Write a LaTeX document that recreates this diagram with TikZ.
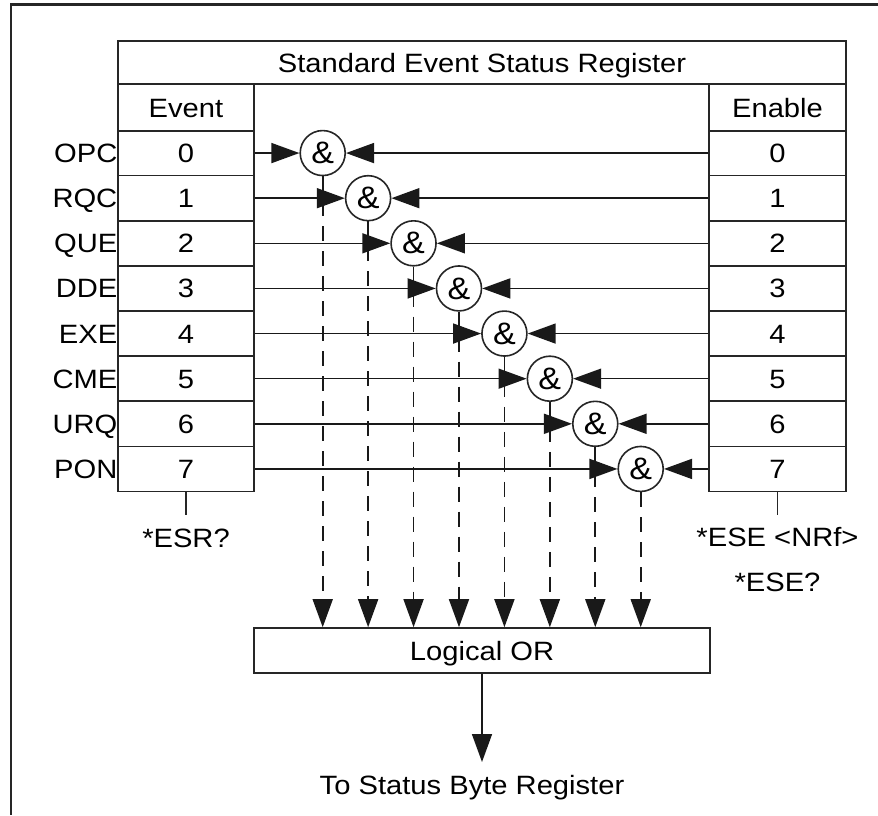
\documentclass[tikz,border=0pt]{standalone}
\usepackage{fontspec}
\setmainfont{Liberation Sans}[FakeStretch=1.1]
\usetikzlibrary{arrows.meta}
\begin{document}
\begin{tikzpicture}[x=1pt,y=-1pt,
  txt/.style={font=\fontsize{26.5}{30}\selectfont, text height=19pt, text depth=0pt},
  box/.style={txt, draw=black!85, line width=1.6pt, inner sep=0pt},
  gate/.style={draw=black!85, line width=1.6pt, circle, minimum size=45pt, inner sep=0pt,
    fill=white, font=\fontsize{31}{32}\selectfont},
  lab/.style={txt, inner sep=0pt},
  arr/.style={draw=black!90, line width=1.6pt, -{Triangle[length=28pt,width=20pt]}},
  dsh/.style={arr, dash pattern=on 15pt off 10pt},
  tickline/.style={draw=black!85, line width=1.6pt},
  frame/.style={draw=black!85, line width=2.4pt}
]
\useasboundingbox (0,0) rectangle (878,815);
% outer frame (partial)
\draw[frame] (10,4.5) -- (878,4.5);
\draw[frame] (11,4.5) -- (11,815);

% title and headers
\node[box, minimum width=728pt, minimum height=43.5pt] (title) at (482,62.5) {Standard Event Status Register};
\node[box, minimum width=136pt, minimum height=46.5pt] (evh) at (186,107.5) {Event};
\node[box, minimum width=137pt, minimum height=46.5pt] (enh) at (777.5,107.5) {Enable};

% logical OR
\node[box, minimum width=456pt, minimum height=45pt] (or) at (482,650.5) {Logical OR};

\foreach \i/\n in {0/OPC,1/RQC,2/QUE,3/DDE,4/EXE,5/CME,6/URQ,7/PON}{
  \pgfmathsetmacro\yy{153.05+45.125*\i}
  \pgfmathsetmacro\xx{322.7+45.43*\i}
  \node[box, minimum width=136pt, minimum height=45.125pt] (e\i) at (186,\yy) {\i};
  \node[box, minimum width=137pt, minimum height=45.125pt] (n\i) at (777.5,\yy) {\i};
  \node[lab, anchor=east] (l\i) at (117.5,\yy) {\n};
  \node[gate] (g\i) at (\xx,\yy) {\&};
  \draw[arr] (e\i.east) -- (g\i.west);
  \draw[arr] (n\i.west) -- (g\i.east);
  \draw[dsh] (g\i.south) -- (g\i.south |- or.north);
}

% register commands
\coordinate (esrT) at (186,515);
\draw[tickline] (e7.south) -- (esrT);
\node[lab] (esr) at (186,538) {*ESR?};
\coordinate (eseT) at (777.5,515);
\draw[tickline] (n7.south) -- (eseT);
\node[lab] (ese) at (777.5,537) {*ESE <NRf>};
\node[lab] (eseq) at (777.5,582) {*ESE?};

% output
\coordinate (outT) at (482,762);
\draw[arr] (or.south) -- (outT);
\node[lab] (sbr) at (472,785) {To Status Byte Register};
\end{tikzpicture}
\end{document}
